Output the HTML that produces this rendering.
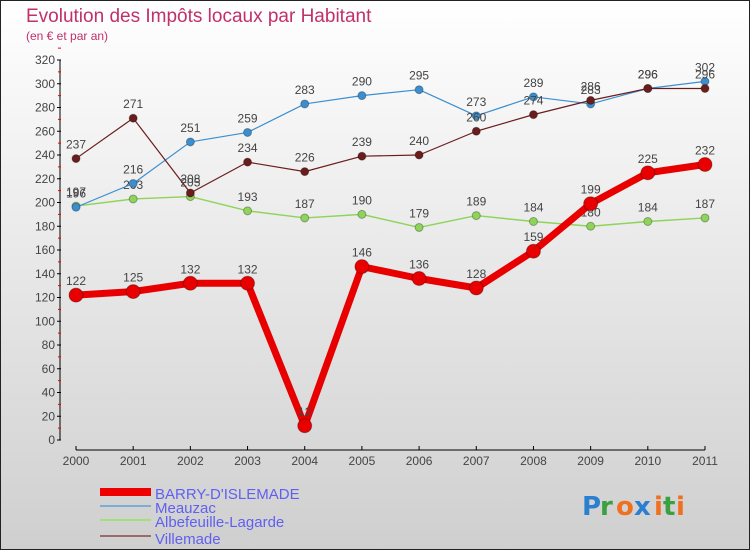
<!DOCTYPE html>
<html><head><meta charset="utf-8"><style>
html,body{margin:0;padding:0}
body{width:750px;height:550px;overflow:hidden;font-family:"Liberation Sans",sans-serif}
</style></head><body>
<svg id="chart" width="750" height="550" xmlns="http://www.w3.org/2000/svg">
<defs><linearGradient id="bg" x1="0" y1="0" x2="0" y2="1"><stop offset="0" stop-color="#ffffff"/><stop offset="1" stop-color="#cfcfcf"/></linearGradient></defs>
<rect x="0.5" y="0.5" width="749" height="549" fill="url(#bg)" stroke="#222" stroke-width="1"/>
<text x="26" y="22" font-size="19" fill="#c0306a">Evolution des Impôts locaux par Habitant</text>
<text x="26" y="40" font-size="12" fill="#c0306a">(en € et par an)</text>
<g id="axes"></g>
<g id="series"></g>
<g id="legend">
<rect x="100" y="488" width="51" height="8" fill="#e00"/>
<text x="155" y="499" font-size="15" fill="#6060f0">BARRY-D'ISLEMADE</text>
<rect x="100" y="505" width="51" height="2" fill="#7aaed6"/>
<text x="155" y="513" font-size="15" fill="#6060f0">Meauzac</text>
<rect x="100" y="519" width="51" height="2" fill="#a2e07a"/>
<text x="155" y="527" font-size="15" fill="#6060f0">Albefeuille-Lagarde</text>
<rect x="100" y="535" width="51" height="2" fill="#9a6b6b"/>
<text x="155" y="544" font-size="15" fill="#6060f0">Villemade</text>
</g>
<g font-size="26" font-family="'DejaVu Sans',sans-serif" font-weight="bold">
<text x="582" y="515" fill="#2a7fd0">P</text><text x="600" y="515" fill="#3aa040">r</text><text x="616" y="515" fill="#f07020">o</text><text x="634" y="515" fill="#2a7fd0">x</text><text x="654" y="515" fill="#f07020">i</text><text x="663" y="515" fill="#3aa040">t</text><text x="676" y="515" fill="#f07020">i</text>
</g>
</svg>
<script>
const years=["2000","2001","2002","2003","2004","2005","2006","2007","2008","2009","2010","2011"];
const barry=[122,125,132,132,12,146,136,128,159,199,225,232];
const meauzac=[196,216,251,259,283,290,295,273,289,283,296,302];
const albefeuille=[197,203,205,193,187,190,179,189,184,180,184,187];
const villemade=[237,271,208,234,226,239,240,260,274,286,296,296];
const yTicks=[0,20,40,60,80,100,120,140,160,180,200,220,240,260,280,300,320];
const NS="http://www.w3.org/2000/svg";
const x=i=>76+i*(705-76)/(years.length-1);
const y=v=>440-v*380/320;
function mk(tag,attrs,parent){const e=document.createElementNS(NS,tag);for(const k in attrs)e.setAttribute(k,attrs[k]);parent.appendChild(e);return e;}
const ax=document.getElementById('axes');
let l=mk('line',{x1:60,y1:y(0),x2:60,y2:y(320),stroke:'#000'},ax);


yTicks.forEach(v=>{
  const t=mk('line',{x1:57,x2:61,y1:y(v),y2:y(v),stroke:'#000'},ax);
  
  
  const m=mk('line',{x1:58,x2:61,y1:y(v+10),y2:y(v+10),stroke:'#e00'},ax);
  
  
  const tx=mk('text',{x:55,y:y(v)+4,'font-size':12,fill:'#444','text-anchor':'end'},ax);
  
  
  tx.textContent=v;
});
l=mk('line',{x1:x(0),x2:x(years.length-1),y1:450,y2:450,stroke:'#000'},ax);


years.forEach((yr,i)=>{
  const t=mk('line',{x1:x(i),x2:x(i),y1:446,y2:450,stroke:'#000'},ax);
  
  
  const tx=mk('text',{x:x(i),y:465,'font-size':12,fill:'#444','text-anchor':'middle'},ax);
  
  
  tx.textContent=yr;
});
const sg=document.getElementById('series');
function draw(name,data,color,w,r,labels){
  const g=mk('g',{},sg);
  
  
  const p=mk('polyline',{points:data.map((v,i)=>x(i)+','+y(v)).join(' '),fill:'none',stroke:color,'stroke-width':w,'stroke-linejoin':'round'},g);
  
  
  data.forEach((v,i)=>{
    const c=mk('circle',{cx:x(i),cy:y(v),r:r,fill:color,stroke:'rgba(0,0,0,0.3)','stroke-width':1},g);
    
    
    if(labels){
      const t=mk('text',{x:x(i),y:y(v)-10,'font-size':12,fill:'#444','text-anchor':'middle'},g);
      
      
      t.textContent=v;
    }
  });
}
draw('albefeuille',albefeuille,'#8fd45a',1.5,4,true);
draw('meauzac',meauzac,'#3b8fd0',1.2,4,true);
draw('villemade',villemade,'#6b1d1d',1.2,4,true);
draw('barry',barry,'#e80000',7,7,true);
</script>
</body></html>
